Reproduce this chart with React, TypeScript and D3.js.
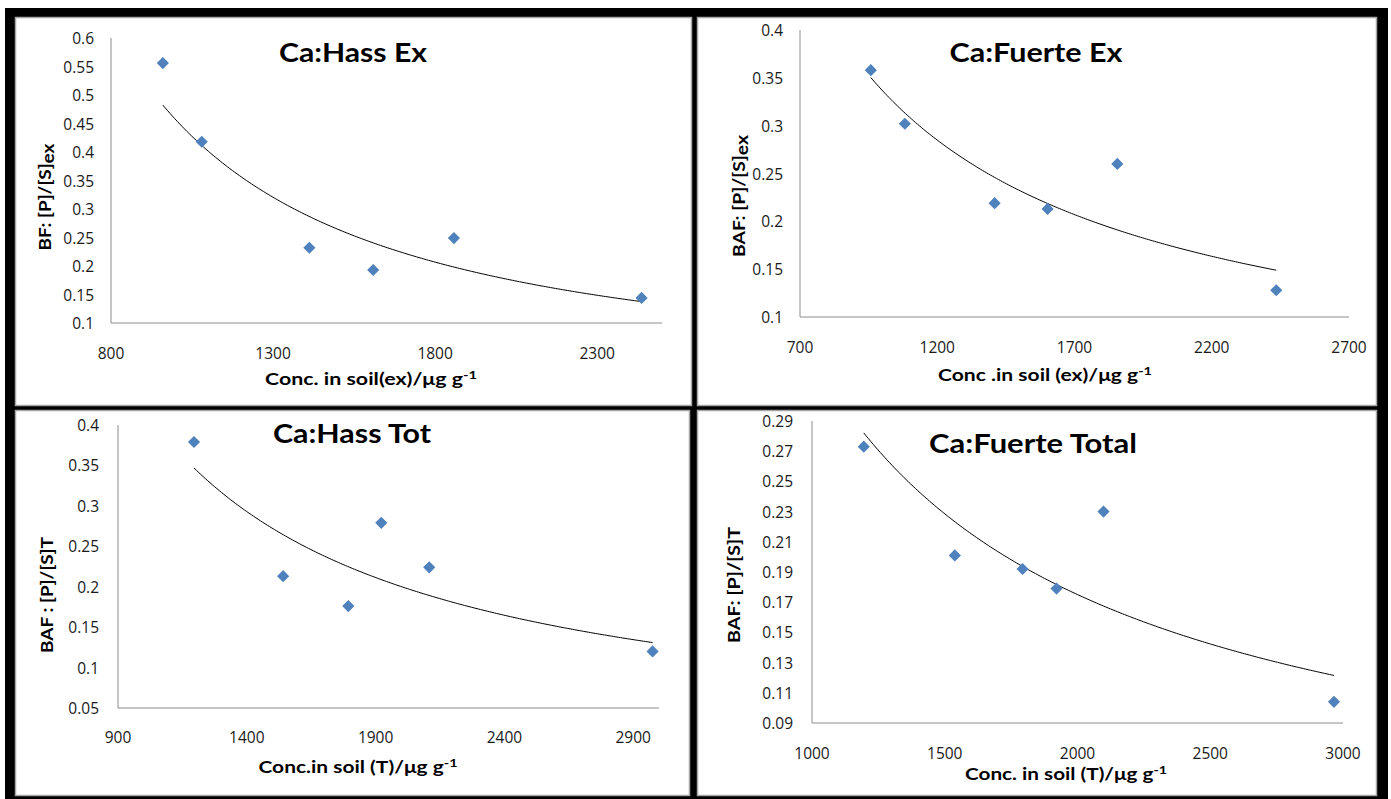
import React from 'react';
import * as d3 from 'd3';

// ---------- data ----------
const hassExX = [960, 1080, 1412, 1609, 1858, 2437];
const hassExY = [0.556, 0.418, 0.232, 0.193, 0.249, 0.144];
const hassExXTicks = [800, 1300, 1800, 2300];
const hassExYTicks = [0.1, 0.15, 0.2, 0.25, 0.3, 0.35, 0.4, 0.45, 0.5, 0.55, 0.6];

const fuerteExX = [958, 1082, 1409, 1602, 1856, 2435];
const fuerteExY = [0.358, 0.302, 0.219, 0.213, 0.26, 0.128];
const fuerteExXTicks = [700, 1200, 1700, 2200, 2700];
const fuerteExYTicks = [0.1, 0.15, 0.2, 0.25, 0.3, 0.35, 0.4];

const hassTotX = [1195, 1541, 1794, 1922, 2108, 2975];
const hassTotY = [0.379, 0.213, 0.176, 0.279, 0.224, 0.12];
const hassTotXTicks = [900, 1400, 1900, 2400, 2900];
const hassTotYTicks = [0.05, 0.1, 0.15, 0.2, 0.25, 0.3, 0.35, 0.4];

const fuerteTotX = [1195, 1538, 1793, 1921, 2098, 2966];
const fuerteTotY = [0.273, 0.201, 0.192, 0.179, 0.23, 0.104];
const fuerteTotXTicks = [1000, 1500, 2000, 2500, 3000];
const fuerteTotYTicks = [0.09, 0.11, 0.13, 0.15, 0.17, 0.19, 0.21, 0.23, 0.25, 0.27, 0.29];

const titles = ['Ca:Hass Ex', 'Ca:Fuerte Ex', 'Ca:Hass Tot', 'Ca:Fuerte Total'];
const xTitles = ['Conc. in soil(ex)/\u03bcg g', 'Conc .in soil (ex)/\u03bcg g', 'Conc.in soil (T)/\u03bcg g', 'Conc. in soil (T)/\u03bcg g'];
const yTitleMain = ['BF: [P]/[S]', 'BAF: [P]/[S]', 'BAF : [P]/[S]T', 'BAF: [P]/[S]T'];
const yTitleSub = ['ex', 'ex', '', ''];

// ---------- layout ----------
const FONT = 'Lato, "Open Sans", sans-serif';
const TICKFONT = '"Open Sans", Lato, sans-serif';
const BLUE = '#4F81BD';

const panels = [
  {
    xs: hassExX, ys: hassExY, xTicks: hassExXTicks, yTicks: hassExYTicks,
    xDom: [800, 2500], yDom: [0.1, 0.6],
    left: 111, right: 662, top: 38, bottom: 323,
    titleX: 353, titleY: 62, titleW: 148,
    xTitleX: 371, xTitleY: 385, xTitleW: 212, yTitleX: 44, yTitleY: 197, yTitleW: 107,
    xLabY: 353, yLabR: 94,
  },
  {
    xs: fuerteExX, ys: fuerteExY, xTicks: fuerteExXTicks, yTicks: fuerteExYTicks,
    xDom: [700, 2700], yDom: [0.1, 0.4],
    left: 800, right: 1349, top: 30, bottom: 317,
    titleX: 1036, titleY: 62, titleW: 173,
    xTitleX: 1045, xTitleY: 381, xTitleW: 214, yTitleX: 738, yTitleY: 196, yTitleW: 122,
    xLabY: 347, yLabR: 783,
  },
  {
    xs: hassTotX, ys: hassTotY, xTicks: hassTotXTicks, yTicks: hassTotYTicks,
    xDom: [900, 3000], yDom: [0.05, 0.4],
    left: 118, right: 659, top: 425, bottom: 708,
    titleX: 352, titleY: 443, titleW: 158,
    xTitleX: 358, xTitleY: 773, xTitleW: 199, yTitleX: 46, yTitleY: 595, yTitleW: 116,
    xLabY: 737, yLabR: 99,
  },
  {
    xs: fuerteTotX, ys: fuerteTotY, xTicks: fuerteTotXTicks, yTicks: fuerteTotYTicks,
    xDom: [1000, 3000], yDom: [0.09, 0.29],
    left: 812, right: 1343, top: 421, bottom: 723,
    titleX: 1033, titleY: 453, titleW: 208,
    xTitleX: 1066, xTitleY: 780, xTitleW: 202, yTitleX: 733, yTitleY: 585, yTitleW: 116,
    xLabY: 753, yLabR: 793,
  },
];

function powerFit(xs: number[], ys: number[]) {
  const lx = xs.map(Math.log);
  const ly = ys.map(Math.log);
  const mx = d3.mean(lx) as number;
  const my = d3.mean(ly) as number;
  const b = d3.sum(lx.map((v, i) => (v - mx) * (ly[i] - my))) / d3.sum(lx.map((v) => (v - mx) ** 2));
  const a = Math.exp(my - b * mx);
  return (x: number) => a * Math.pow(x, b);
}

const fmt = (v: number) => String(+v.toFixed(2));

function Panel({ p, i }: { p: any; i: number }) {
  const x = d3.scaleLinear().domain(p.xDom).range([p.left, p.right]);
  const y = d3.scaleLinear().domain(p.yDom).range([p.bottom, p.top]);
  const f = powerFit(p.xs, p.ys);
  const [x0, x1] = d3.extent(p.xs) as [number, number];
  const samples = d3.range(0, 201).map((k) => x0 + ((x1 - x0) * k) / 200);
  const line = d3.line<number>().x((d) => x(d)).y((d) => y(f(d)));
  const diamond = d3.symbol().type(d3.symbolSquare).size(74)();
  return (
    <g>
      {/* axes */}
      <line x1={p.left} x2={p.left} y1={p.top} y2={p.bottom} stroke="#8c8c8c" strokeWidth={1} />
      <line x1={p.left} x2={p.right} y1={p.bottom} y2={p.bottom} stroke="#8c8c8c" strokeWidth={1} />
      {p.yTicks.map((t: number) => (
        <text key={'y' + t} x={p.yLabR} y={y(t)} textAnchor="end" dominantBaseline="central"
          fontFamily={TICKFONT} fontSize={15.5} fill="#1a1a1a">{fmt(t)}</text>
      ))}
      {p.xTicks.map((t: number) => (
        <text key={'x' + t} x={x(t)} y={p.xLabY} textAnchor="middle" dominantBaseline="central"
          fontFamily={TICKFONT} fontSize={15.5} fill="#1a1a1a">{t}</text>
      ))}
      {/* trendline */}
      <path d={line(samples) as string} fill="none" stroke="#000" strokeWidth={1} />
      {/* points */}
      {p.xs.map((v: number, k: number) => (
        <path key={k} d={diamond as string} transform={`translate(${x(v)},${y(p.ys[k])}) rotate(45)`} fill={BLUE} />
      ))}
      {/* titles */}
      <text x={p.titleX} y={p.titleY} textAnchor="middle" fontFamily={FONT} fontWeight="bold" fontSize={26}
        textLength={p.titleW} lengthAdjust="spacingAndGlyphs" fill="#000">{titles[i]}</text>
      <text x={p.xTitleX} y={p.xTitleY} textAnchor="middle" fontFamily={FONT} fontWeight="bold" fontSize={17.5}
        textLength={p.xTitleW} lengthAdjust="spacingAndGlyphs" fill="#000">
        {xTitles[i]}
        <tspan fontSize={12} dy={-6}>-1</tspan>
      </text>
      <text transform={`translate(${p.yTitleX},${p.yTitleY}) rotate(-90)`} textAnchor="middle" dominantBaseline="central"
        fontFamily={FONT} fontWeight="bold" fontSize={17}
        textLength={p.yTitleW} lengthAdjust="spacingAndGlyphs" fill="#000">
        {yTitleMain[i]}
        {yTitleSub[i] ? <tspan dy={3}>{yTitleSub[i]}</tspan> : null}
      </text>
    </g>
  );
}

export default function App() {
  const frames = [
    { x: 15.5, y: 17.5, w: 676, h: 388 },
    { x: 697.5, y: 17.5, w: 679, h: 388 },
    { x: 15.5, y: 410.5, w: 674, h: 385 },
    { x: 697.5, y: 410.5, w: 679, h: 385 },
  ];
  return (
    <svg width={1391} height={799} style={{ position: 'absolute', left: 0, top: 0, background: '#fff' }}>
      <rect x={5} y={8} width={1383} height={800} fill="#000" />
      {frames.map((r, k) => (
        <rect key={k} x={r.x} y={r.y} width={r.w} height={r.h} fill="#fff" stroke="#a6a6a6" strokeWidth={1.5} />
      ))}
      {panels.map((p, i) => (
        <Panel key={i} p={p} i={i} />
      ))}
    </svg>
  );
}
